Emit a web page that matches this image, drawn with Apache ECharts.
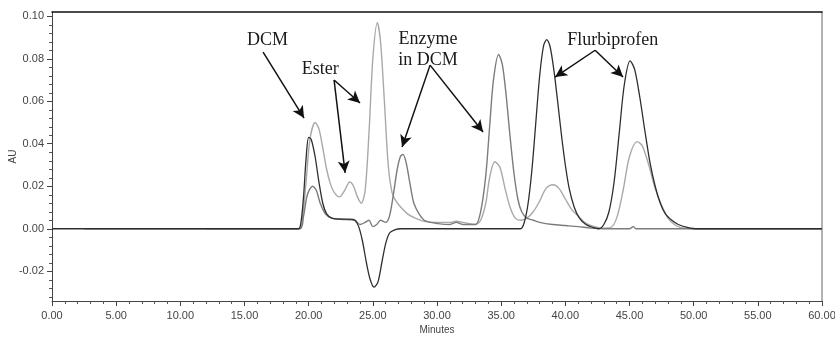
<!DOCTYPE html>
<html>
<head>
<meta charset="utf-8">
<script src="https://cdn.jsdelivr.net/npm/echarts@6/dist/echarts.min.js"></script>
<style>
  html, body { margin: 0; padding: 0; background: #fff; }
  #chart { width: 835px; height: 338px; }
</style>
</head>
<body>
<div id="chart"></div>
<script>
// 色谱图数据 [min, AU]
const traceLight = [
  [12, 0], [19.3, 0], [19.5, 0.004], [19.8, 0.022], [20.1, 0.042], [20.5, 0.050], [20.8, 0.047],
  [21.1, 0.038], [21.4, 0.028], [21.7, 0.021], [22.0, 0.017], [22.4, 0.015], [22.8, 0.018],
  [23.2, 0.022], [23.5, 0.020], [23.8, 0.015], [24.1, 0.012], [24.4, 0.018], [24.7, 0.045],
  [25.0, 0.080], [25.35, 0.097], [25.6, 0.088], [25.9, 0.060], [26.2, 0.030], [26.5, 0.017],
  [26.8, 0.013], [27.2, 0.010], [27.7, 0.007], [28.3, 0.005], [29, 0.0035], [30, 0.003],
  [31, 0.003], [31.5, 0.0035], [32, 0.003], [33, 0.002], [33.4, 0.004], [33.8, 0.012],
  [34.1, 0.024], [34.5, 0.0315], [34.9, 0.029], [35.3, 0.019], [35.7, 0.010], [36.1, 0.005],
  [36.5, 0.004], [37, 0.005], [37.5, 0.008], [38, 0.013], [38.5, 0.019], [39.05, 0.0207],
  [39.5, 0.019], [40, 0.014], [40.5, 0.009], [41, 0.006], [41.5, 0.003], [42, 0.0015],
  [43, 0.0003], [43.5, 0.0005], [44, 0.005], [44.5, 0.018], [45, 0.034], [45.6, 0.041],
  [46, 0.039], [46.5, 0.030], [47, 0.019], [47.5, 0.011], [48, 0.005], [48.5, 0.002],
  [49, 0.0005], [50, 0], [60, 0]
];
const traceMid = [
  [2.5, 0], [19.3, 0], [19.6, 0.006], [19.9, 0.016], [20.3, 0.020], [20.6, 0.018], [20.9, 0.012],
  [21.3, 0.007], [21.8, 0.005], [22.5, 0.0045], [23.2, 0.0042], [23.6, 0.004], [24.0, 0.002],
  [24.4, 0.003], [24.7, 0.004], [25.0, 0.001], [25.3, 0.002], [25.6, 0.004], [26.0, 0.003],
  [26.3, 0.006], [26.6, 0.016], [26.9, 0.028], [27.15, 0.034], [27.35, 0.035], [27.6, 0.031],
  [27.9, 0.021], [28.2, 0.012], [28.6, 0.007], [29.0, 0.004], [29.5, 0.003], [30, 0.0025],
  [31, 0.002], [31.5, 0.003], [32, 0.002], [33.0, 0.002], [33.4, 0.008], [33.8, 0.025],
  [34.1, 0.048], [34.4, 0.070], [34.8, 0.082], [35.1, 0.077], [35.4, 0.062], [35.7, 0.043],
  [36.0, 0.026], [36.3, 0.014], [36.6, 0.008], [37.0, 0.005], [37.5, 0.004], [38, 0.003],
  [39, 0.002], [40, 0.0015], [41, 0.001], [42, 0.0003], [43, 0], [45.0, 0], [45.3, 0.001],
  [45.5, 0], [60, 0]
];
const traceDark = [
  [0, 0], [19.2, 0], [19.4, 0.003], [19.6, 0.015], [19.8, 0.033], [20.0, 0.043], [20.2, 0.042],
  [20.5, 0.034], [20.8, 0.022], [21.1, 0.012], [21.4, 0.007], [21.8, 0.005], [22.5, 0.0045],
  [23.2, 0.0045], [23.6, 0.004], [23.9, 0.001], [24.2, -0.006], [24.5, -0.016], [24.8, -0.024],
  [25.1, -0.0275], [25.4, -0.025], [25.7, -0.016], [26.0, -0.007], [26.3, -0.002], [26.7, -0.0005],
  [27.2, 0], [36.5, 0], [36.8, 0.003], [37.1, 0.012], [37.4, 0.028], [37.7, 0.050], [38.0, 0.072],
  [38.3, 0.086], [38.55, 0.089], [38.8, 0.086], [39.1, 0.075], [39.4, 0.060], [39.7, 0.044],
  [40.0, 0.030], [40.3, 0.019], [40.7, 0.010], [41.1, 0.005], [41.6, 0.002], [42.2, 0.0005],
  [42.6, 0], [43.0, 0.002], [43.4, 0.008], [43.8, 0.022], [44.2, 0.045], [44.6, 0.068],
  [45.05, 0.079], [45.4, 0.075], [45.8, 0.062], [46.2, 0.046], [46.6, 0.031], [47.0, 0.020],
  [47.4, 0.012], [47.8, 0.007], [48.3, 0.004], [48.8, 0.002], [49.5, 0.0007], [50.3, 0], [60, 0]
];

const yMajorTicks = [-0.02, 0, 0.02, 0.04, 0.06, 0.08, 0.10];
const yMinorTicks = [-0.032, -0.028, -0.024, -0.016, -0.012, -0.008, -0.004, 0.004, 0.008, 0.012,
  0.016, 0.024, 0.028, 0.032, 0.036, 0.044, 0.048, 0.052, 0.056, 0.064, 0.068, 0.072, 0.076,
  0.084, 0.088, 0.092, 0.096];

// 标注：文字位置和箭头（数据坐标）
const labels = [
  { text: "DCM", at: [16.8, 0.0887] },
  { text: "Ester", at: [20.9, 0.0751] },
  { text: "Enzyme\nin DCM", at: [29.3, 0.0840] },
  { text: "Flurbiprofen", at: [43.7, 0.0887] }
];
const arrows = [
  [[16.45, 0.0831], [19.64, 0.0521]],
  [[21.98, 0.070], [22.84, 0.0263]],
  [[21.98, 0.070], [24.0, 0.0592]],
  [[29.46, 0.077], [27.28, 0.0385]],
  [[29.46, 0.077], [33.59, 0.0455]],
  [[42.32, 0.084], [39.2, 0.0714]],
  [[42.32, 0.084], [44.5, 0.0714]]
];

(function () {
  let myChart = echarts.init(document.getElementById("chart"));
  const tickText = { color: "#444", fontSize: 11, fontFamily: "Liberation Sans" };
  let option = {
    animation: false,
    grid: { left: 52, right: 13, top: 12, bottom: 37, containLabel: false, outerBoundsMode: "none" },
    xAxis: [
      {
        type: "value", min: 0, max: 60, interval: 5,
        name: "Minutes", nameLocation: "middle", nameGap: 24, nameMoveOverlap: false,
        nameTextStyle: { color: "#444", fontSize: 10, fontFamily: "Liberation Sans" },
        axisLine: { onZero: false, lineStyle: { color: "#444", width: 1 } },
        axisTick: { length: 5, lineStyle: { color: "#444" } },
        minorTick: { show: true, splitNumber: 5, length: 3, lineStyle: { color: "#555" } },
        axisLabel: Object.assign({ margin: 9, formatter: v => v.toFixed(2) }, tickText),
        splitLine: { show: false }
      },
      {
        type: "value", min: 0, max: 60, position: "top",
        axisLine: { onZero: false, lineStyle: { color: "#111", width: 1.5 } },
        axisTick: { show: false }, axisLabel: { show: false }, splitLine: { show: false }
      }
    ],
    yAxis: [
      {
        type: "value", min: -0.034, max: 0.102,
        name: "AU", nameLocation: "middle", nameGap: 34, nameMoveOverlap: false,
        nameTextStyle: { color: "#444", fontSize: 10, fontFamily: "Liberation Sans" },
        axisLine: { show: true, onZero: false, lineStyle: { color: "#444" } },
        axisTick: { show: true, length: 5, customValues: yMajorTicks, lineStyle: { color: "#444" } },
        axisLabel: Object.assign({ customValues: yMajorTicks, margin: 8, formatter: v => v.toFixed(2) }, tickText),
        splitLine: { show: false }
      },
      {
        type: "value", min: -0.034, max: 0.102, position: "left",
        axisLine: { show: false, onZero: false },
        axisTick: { show: true, length: 3, customValues: yMinorTicks, lineStyle: { color: "#555" } },
        axisLabel: { show: false }, splitLine: { show: false }
      },
      {
        type: "value", min: -0.034, max: 0.102, position: "right",
        axisLine: { show: true, onZero: false, lineStyle: { color: "#999", width: 1.5 } },
        axisTick: { show: false }, axisLabel: { show: false }, splitLine: { show: false }
      }
    ],
    series: [
      {
        name: "light", type: "line", data: traceLight, smooth: 0.3, symbol: "none",
        lineStyle: { color: "#a9a9a9", width: 1.4 }
      },
      {
        name: "mid", type: "line", data: traceMid, smooth: 0.3, symbol: "none",
        lineStyle: { color: "#7c7c7c", width: 1.4 }
      },
      {
        name: "dark", type: "line", data: traceDark, smooth: 0.3, symbol: "none",
        lineStyle: { color: "#2e2e2e", width: 1.3 },
        markLine: {
          silent: true, symbol: ["none", "arrow"], symbolSize: [9, 12],
          label: { show: false },
          lineStyle: { color: "#111", width: 1.5, type: "solid" },
          data: arrows.map(a => [{ coord: a[0] }, { coord: a[1] }])
        }
      }
    ]
  };
  myChart.setOption(option);
  // 标注文字
  myChart.setOption({
    graphic: labels.map(l => {
      const p = myChart.convertToPixel({ xAxisIndex: 0, yAxisIndex: 0 }, l.at);
      return {
        type: "text", x: p[0], y: p[1],
        style: {
          text: l.text, fill: "#1a1a1a", font: "18px 'Liberation Serif'",
          align: "center", verticalAlign: "middle", lineHeight: 21
        }
      };
    })
  });
  window.addEventListener("resize", function () {
    myChart.resize();
  });
})();
</script>
</body>
</html>
